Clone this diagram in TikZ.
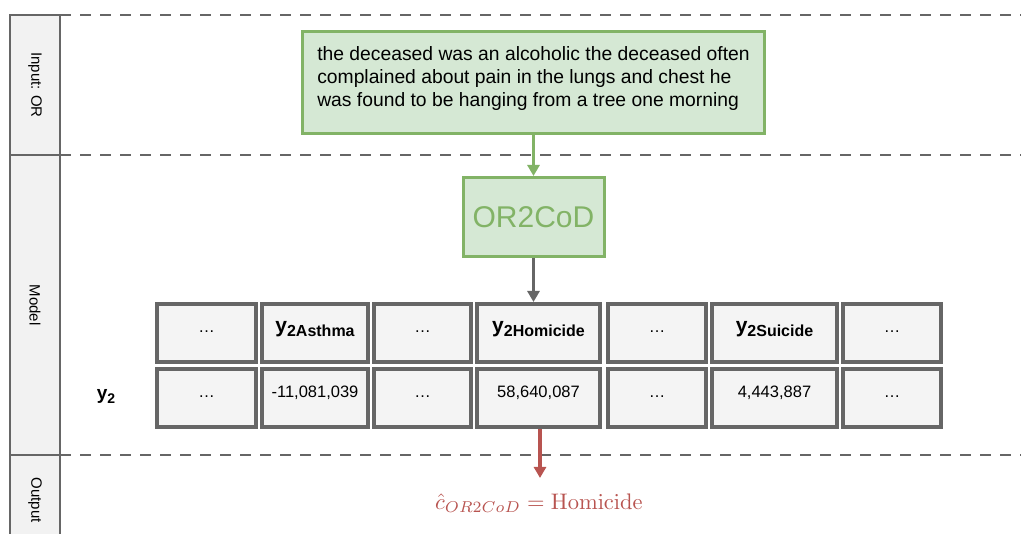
\documentclass[tikz,border=0pt]{standalone}
\usepackage[no-math]{fontspec}
\setmainfont{Liberation Sans}
\usepackage{amsmath}
\usepackage{graphicx}
\usepackage{xcolor}
\definecolor{lanegray}{RGB}{102,102,102}
\definecolor{lanefill}{RGB}{242,242,242}
\definecolor{cellfill}{RGB}{244,244,244}
\definecolor{orgreen}{RGB}{130,179,102}
\definecolor{orfill}{RGB}{213,232,212}
\definecolor{predred}{RGB}{184,84,80}
\usetikzlibrary{arrows.meta,positioning,calc}

\newcommand{\ylab}[1]{{\bfseries\fontsize{21}{21}\selectfont y\raisebox{-4pt}{\fontsize{16}{16}\selectfont #1}}}

\begin{document}
\begin{tikzpicture}[x=1pt,y=-1pt,
  lane/.style={draw=lanegray,fill=lanefill,line width=2pt,rotate=-90,
    minimum height=50pt,inner sep=0pt,font=\fontsize{15}{15}\selectfont},
  sep/.style={lanegray,line width=2.5pt,dash pattern=on 11pt off 9pt},
  cell/.style={draw=lanegray,fill=cellfill,line width=4pt,inner sep=0pt,
    minimum height=58pt,text height=0pt,text depth=0pt,
    font=\fontsize{16.5}{16.5}\selectfont},
  gbox/.style={draw=orgreen,fill=orfill,line width=3pt,inner sep=0pt},
  arr/.style={-{Triangle[length=11pt,width=12pt]},line width=3pt}]
  \clip (0,0) rectangle (1021,534);
  \useasboundingbox (0,0) rectangle (1021,534);
  % swimlane labels
  \node[lane,minimum width=140pt] (lin) at (35,85) {Input: OR};
  \node[lane,minimum width=300pt] (lmod) at (35,305) {Model};
  \node[lane,minimum width=90pt] (lout) at (35,500) {Output};
  \draw[sep] (60,15) -- (1021,15);
  \draw[sep] (60,155) -- (1021,155);
  \draw[sep] (60,455) -- (1021,455);
  % input and model
  \node[gbox,minimum width=462pt,minimum height=102pt,align=left,text depth=11pt,
    font=\fontsize{19.3}{23}\selectfont] (report) at (533.5,82.5)
    {the deceased was an alcoholic the deceased often\\
     complained about pain in the lungs and chest he\\
     was found to be hanging from a tree one morning};
  \node[gbox,minimum width=141pt,minimum height=79pt,text=orgreen,
    font=\fontsize{30}{30}\selectfont] (model) at (533.5,217) {OR2CoD};
  \draw[arr,orgreen] (report) -- (model);
  % score table
  \foreach \n/\cx/\w/\head/\val in {1/206.5/103/\ldots/\ldots,
      2/315/110/{\ylab{2Asthma}}/{-11,081,039},
      3/422.5/101/\ldots/\ldots,
      4/538.5/127/{\ylab{2Homicide}}/{58,640,087},
      5/657/102/\ldots/\ldots,
      6/774.5/129/{\ylab{2Suicide}}/{4,443,887},
      7/892/102/\ldots/\ldots}{
    \node[cell,minimum width=\w pt-4pt] (h\n) at (\cx,333) {\head};
    \node[cell,minimum width=\w pt-4pt] (v\n) at (\cx,398) {\val};
  }
  \node[font=\bfseries\fontsize{19}{19}\selectfont] (rowlab) at (106,396)
    {y\raisebox{-4pt}{\fontsize{14}{14}\selectfont 2}};
  \draw[arr,lanegray] (model) -- (model.south |- h4.north);
  % prediction
  \node[text=predred] (pred) at (539,503)
    {\scalebox{2.25}{$\hat{c}_{OR2CoD} = \mathrm{Homicide}$}};
  \draw[arr,predred,line width=3.5pt] ($(v4.south)+(1.5,0)$) -- ($(pred.north)+(1,-12)$);
\end{tikzpicture}
\end{document}
